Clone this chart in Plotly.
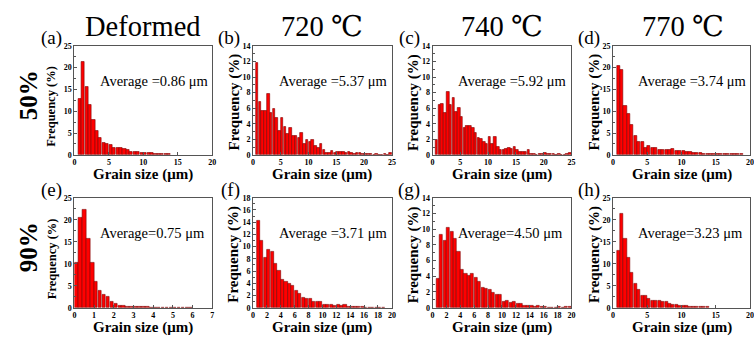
import numpy as np
import plotly.graph_objects as go

W, H = 754, 338
SERIF = "Liberation Serif, Times New Roman, DejaVu Serif"

# ---------------- data (frequency %) ----------------
freq_a = [12.9, 21.4, 15.55, 11.4, 8.0, 5.4, 3.9, 2.7, 2.6, 2.4, 1.7, 1.6, 1.5, 1.35, 1.2,
          0.7, 0.7, 0.6, 0.5, 0.5, 0.4, 0.4, 0.3, 0.3, 0.3, 0.2, 0.2]
freq_b = [11.8, 6.8, 5.7, 5.7, 7.8, 5.4, 5.9, 4.8, 3.1, 4.7, 3.6, 2.7, 3.5, 2.5, 2.5, 2.2,
          2.8, 1.45, 1.9, 1.7, 1.9, 1.1, 0.85, 1.4, 0.65, 0.3, 0.2, 0.5, 0.3, 0.4, 0.35, 0.4,
          0.3, 0.4, 0.2, 0.15, 0.2, 0.2, 0.1, 0.15, 0.1, 0.1, 0.05, 0.1, 0.05, 0.05, 0.1, 0.05,
          0.2]
freq_c = [1.95, 6.4, 6.55, 5.4, 8.1, 6.4, 7.3, 5.5, 6.05, 4.9, 3.45, 3.7, 3.7, 3.45, 2.8,
          2.2, 2.0, 1.65, 1.45, 2.3, 1.4, 2.3, 1.05, 0.6, 0.6, 0.75, 0.95, 0.75, 1.05, 0.65,
          0.4, 0.4, 0.4, 0.6, 0.15, 0.1, 0.05, 0.1, 0.1, 0.2, 0.15, 0.1, 0.1, 0.05, 0.1, 0.05,
          0.05, 0.1, 0.2]
freq_d = [20.4, 19.5, 11.2, 9.3, 6.8, 4.3, 3.1, 3.0, 1.5, 2.1, 1.6, 1.5, 1.25, 1.1, 1.25,
          1.1, 1.3, 1.0, 1.0, 0.9, 0.75, 0.65, 0.5, 0.45, 0.35, 0.3, 0.3, 0.3, 0.2, 0.3, 0.2,
          0.3, 0.2, 0.2, 0.15, 0.2, 0.15]
freq_e = [10.2, 20.4, 22.3, 15.6, 10.25, 6.0, 3.9, 3.0, 2.4, 1.4, 0.95, 0.45, 0.35, 0.25,
          0.2, 0.2, 0.15, 0.15, 0.2, 0.1, 0.05, 0.05, 0.05, 0.05, 0.05, 0.05, 0.05, 0.05, 0.05,
          0.05]
freq_f = [14.3, 10.95, 8.15, 9.5, 9.2, 7.2, 6.0, 4.6, 4.25, 3.9, 3.6, 2.85, 2.3, 1.7, 1.4,
          1.5, 1.05, 1.0, 0.9, 0.45, 0.45, 0.55, 0.35, 0.55, 0.3, 0.45, 0.1, 0.1, 0.15, 0.2,
          0.1, 0.05, 0.05, 0.05, 0.05, 0.05, 0.05]
freq_g = [3.65, 9.25, 8.5, 10.15, 9.65, 8.8, 7.15, 4.8, 4.3, 4.1, 4.3, 3.85, 3.3, 2.55, 2.45,
          2.35, 1.95, 1.6, 1.65, 0.8, 0.95, 0.6, 0.75, 0.5, 0.45, 0.3, 0.3, 0.2, 0.15, 0.2,
          0.15, 0.1, 0.05, 0.05, 0.05, 0.1, 0.05, 0.1, 0.1]
freq_h = [13.0, 21.3, 15.6, 11.4, 8.0, 5.45, 4.05, 2.8, 2.65, 2.0, 1.6, 1.55, 1.5, 1.3, 1.25,
          0.9, 0.65, 0.6, 0.45, 0.45, 0.35, 0.3, 0.3, 0.25, 0.2, 0.15, 0.15]

bin_start = [0.5, 0.5, 0.5, 0.5, 0.0, 0.5, 0.5, 0.5]
bin_width = [0.5, 0.5, 0.5, 0.5, 0.2, 0.5, 0.5, 0.5]

panel_labels = ["(a)", "(b)", "(c)", "(d)", "(e)", "(f)", "(g)", "(h)"]
averages = ["Average =0.86 μm", "Average =5.37 μm", "Average =5.92 μm", "Average =3.74 μm",
            "Average=0.75 μm", "Average =3.71 μm", "Average=4.50 μm", "Average=3.23 μm"]
col_titles = ["Deformed", "720 ℃", "740 ℃", "770 ℃"]
row_titles = ["50%", "90%"]
x_ranges = [[0, 20], [0, 25], [0, 25], [0, 20], [0, 7], [0, 20], [0, 20], [0, 20]]
x_dticks = [5, 5, 5, 5, 1, 2, 2, 5]
y_ranges = [[0, 25], [0, 14], [0, 14], [0, 25], [0, 25], [0, 18], [0, 14], [0, 25]]
y_dticks = [5, 2, 2, 5, 5, 2, 2, 5]
y_title = "Frequency (%)"
x_title = "Grain size (μm)"

freqs = [freq_a, freq_b, freq_c, freq_d, freq_e, freq_f, freq_g, freq_h]

# ---------------- layout geometry (pixels) ----------------
col_px = [(73, 212), (253, 393), (434, 574), (616, 754)]
row_px = [(43, 155), (199, 312)]


def px_x(x):
    return x / W


def px_y(y):
    return 1 - y / H


fig = go.Figure()
annotations = []
layout = {}

for i in range(8):
    r, c = divmod(i, 4)
    n = i + 1
    xa = "x" if n == 1 else f"x{n}"
    ya = "y" if n == 1 else f"y{n}"
    xkey = "xaxis" if n == 1 else f"xaxis{n}"
    ykey = "yaxis" if n == 1 else f"yaxis{n}"
    vals = freqs[i]
    centers = bin_start[i] + bin_width[i] * (np.arange(len(vals)) + 0.5)
    fig.add_trace(go.Bar(
        x=centers, y=vals, xaxis=xa, yaxis=ya, width=bin_width[i] * 0.9,
        marker=dict(color="#ff0000", line=dict(color="#7a0000", width=0.6)),
        showlegend=False, hoverinfo="skip"))
    x0, x1 = col_px[c]
    y0, y1 = row_px[r]
    axcommon = dict(showline=True, mirror=True, linecolor="#555555", linewidth=1,
                    ticks="inside", ticklen=3, tickwidth=1, tickcolor="#555555",
                    showgrid=False, zeroline=False,
                    tickfont=dict(family=SERIF, size=8, color="black", weight="bold"))
    layout[xkey] = dict(domain=[px_x(x0), px_x(x1)], range=x_ranges[i], dtick=x_dticks[i],
                        tick0=0, anchor=ya, **axcommon)
    layout[ykey] = dict(domain=[px_y(y1), px_y(y0)], range=y_ranges[i], dtick=y_dticks[i],
                        tick0=0, anchor=xa,
                        minor=dict(ticks="inside", ticklen=2, dtick=y_dticks[i] / 2,
                                   tickcolor="#555555"),
                        **axcommon)
    # average text
    annotations.append(dict(
        x=0.17, y=0.68, xref=f"{xa} domain", yref=f"{ya} domain", xanchor="left",
        yanchor="middle", text=averages[i], showarrow=False,
        font=dict(family=SERIF, size=14.5, color="black")))
    # panel label
    annotations.append(dict(
        x=px_x(x0 - 11), y=px_y(y0 - 8), xref="paper", yref="paper", xanchor="right",
        yanchor="middle", text=panel_labels[i], showarrow=False,
        font=dict(family=SERIF, size=19, color="black")))
    # y title
    yoff = 23 if c == 0 else 19
    annotations.append(dict(
        x=px_x(x0 - yoff), y=px_y((y0 + y1) / 2 + (6 if c == 0 else 2)), xref="paper",
        yref="paper", xanchor="center", yanchor="middle", textangle=-90,
        text=y_title, showarrow=False,
        font=dict(family=SERIF, size=12.5 if c == 0 else 15, color="black", weight="bold")))
    # x title
    annotations.append(dict(
        x=px_x((x0 + x1) / 2), y=px_y(y1 + 20), xref="paper", yref="paper",
        xanchor="center", yanchor="middle", text=x_title, showarrow=False,
        font=dict(family=SERIF, size=15, color="black", weight="bold")))

# column titles
for c, t in enumerate(col_titles):
    x0, x1 = col_px[c]
    xc = (x0 + x1) / 2 if c < 3 else 686
    annotations.append(dict(
        x=px_x(xc), y=px_y(23), xref="paper", yref="paper", xanchor="center",
        yanchor="middle", text=t, showarrow=False,
        font=dict(family=SERIF, size=28.5, color="black")))

# row titles
for r, t in enumerate(row_titles):
    y0, y1 = row_px[r]
    annotations.append(dict(
        x=px_x(27), y=px_y(94 if r == 0 else 250), xref="paper", yref="paper",
        xanchor="center", yanchor="middle", textangle=-90, text=t, showarrow=False,
        font=dict(family=SERIF, size=25, color="black", weight="bold")))

fig.update_layout(
    width=W, height=H, margin=dict(l=0, r=0, t=0, b=0),
    paper_bgcolor="white", plot_bgcolor="white",
    bargap=0, annotations=annotations, **layout)

fig.write_html("out.html")
